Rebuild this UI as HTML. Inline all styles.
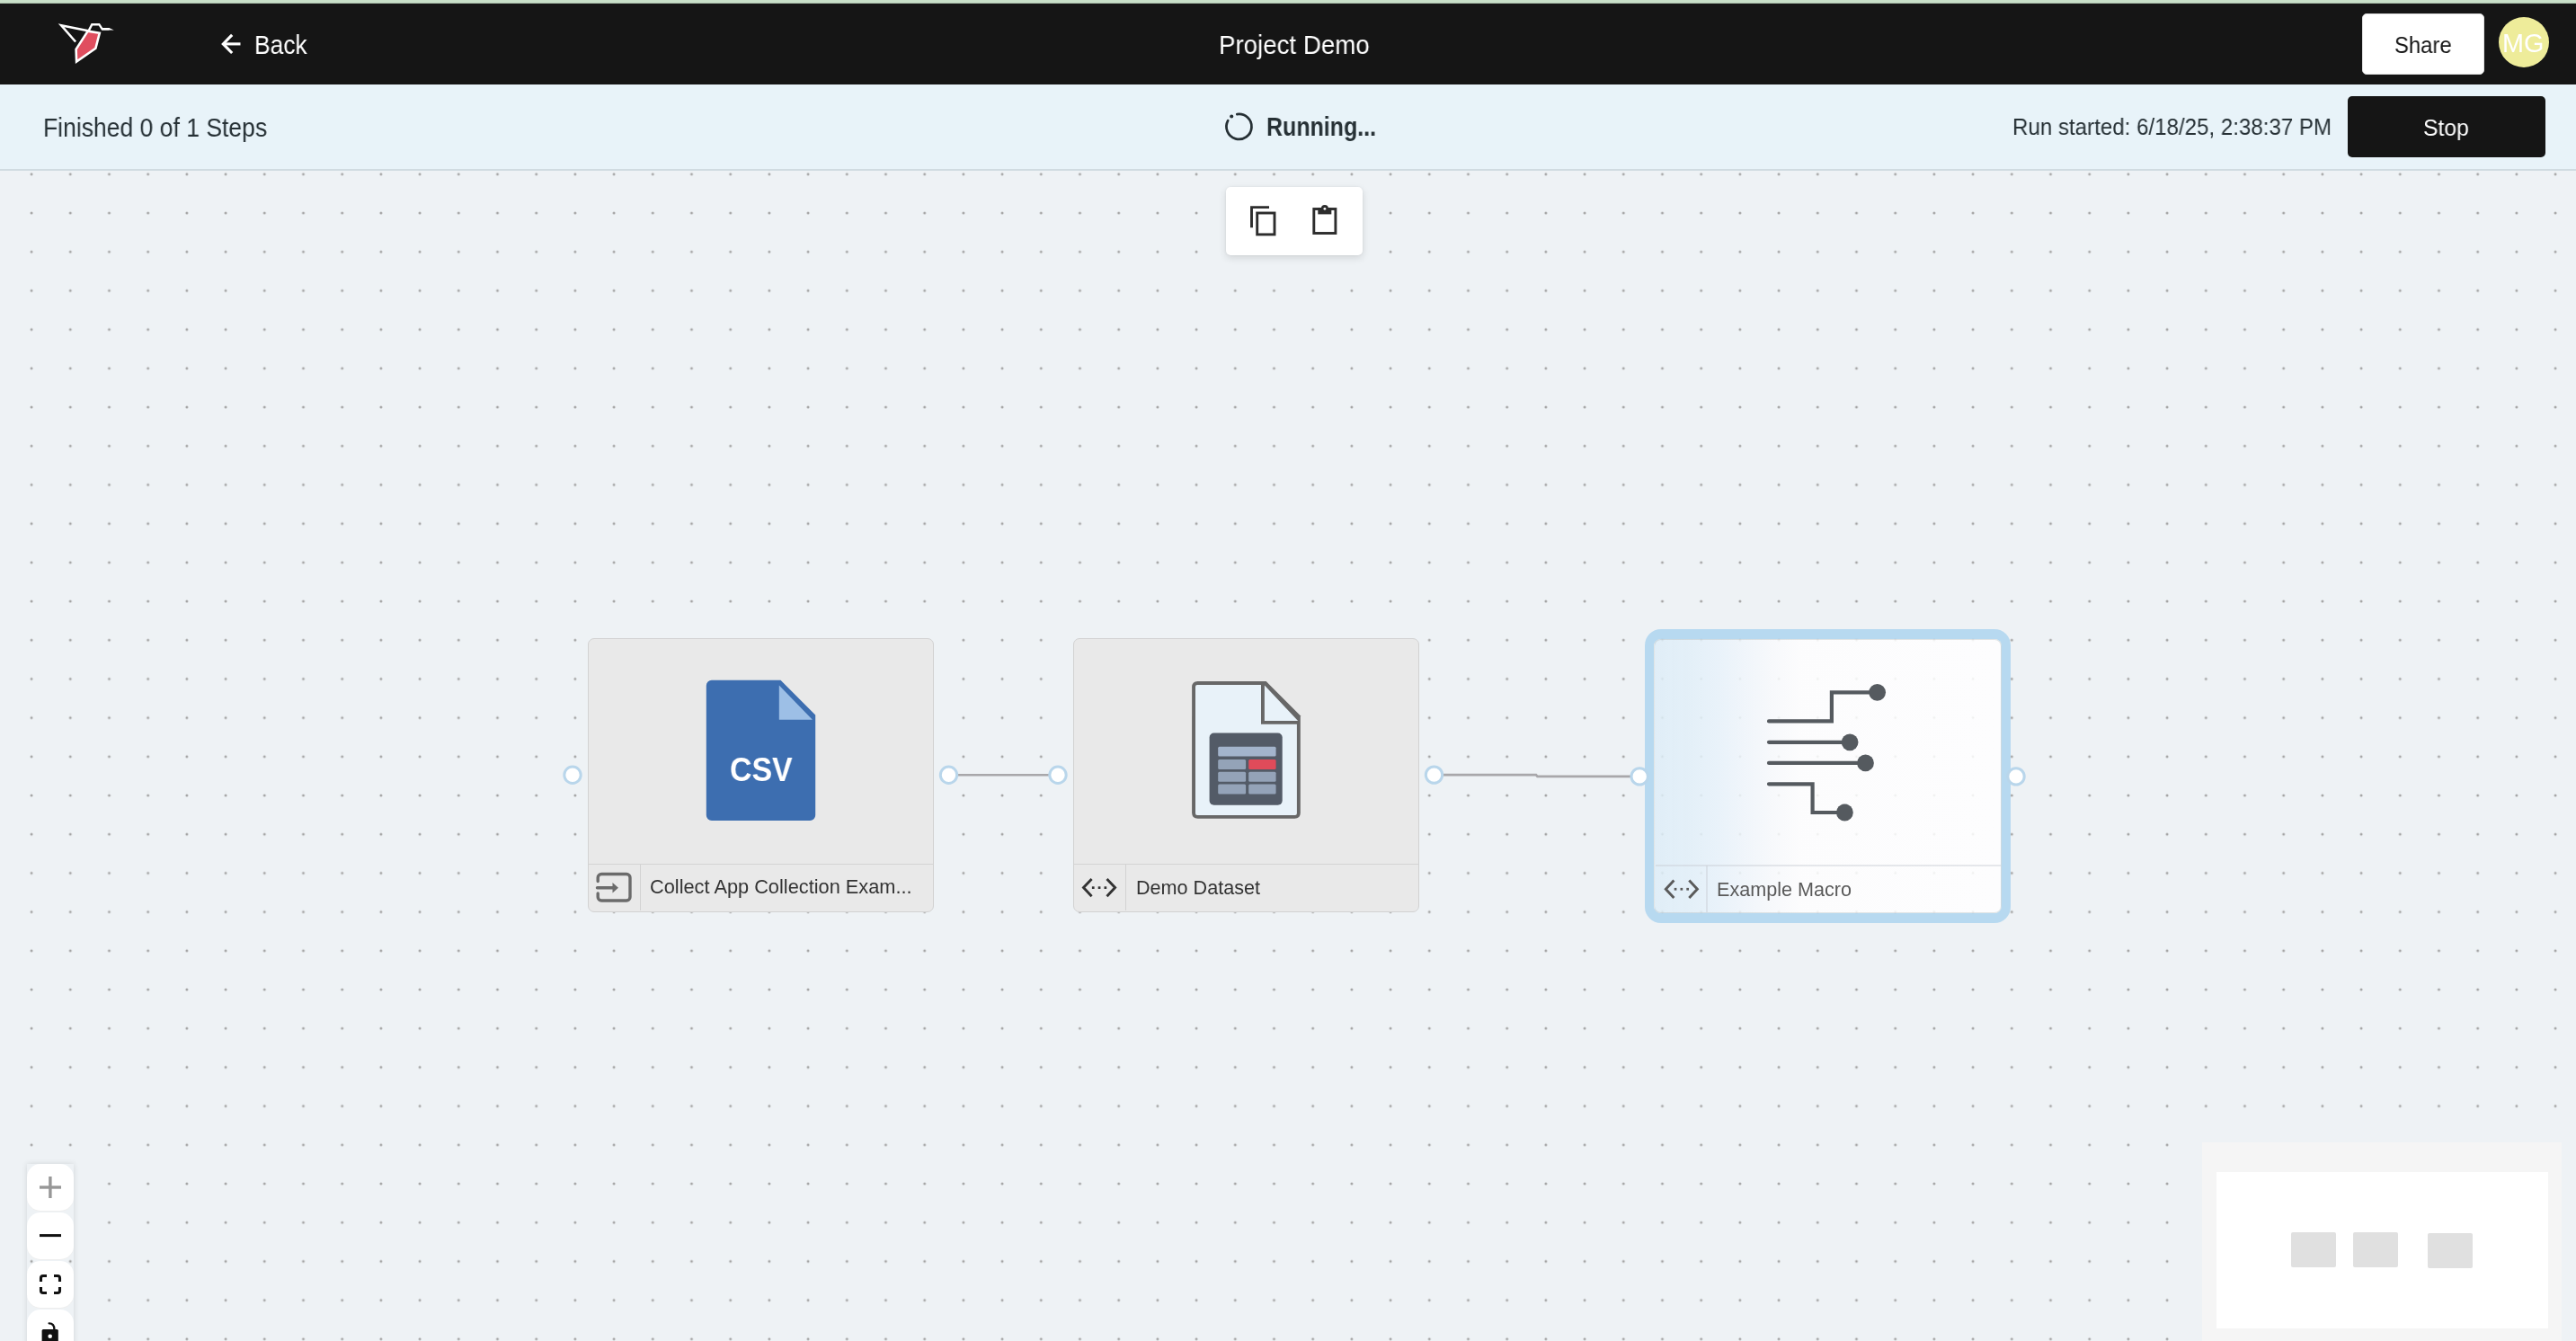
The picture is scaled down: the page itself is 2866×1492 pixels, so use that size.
<!DOCTYPE html>
<html><head><meta charset="utf-8"><style>
*{box-sizing:border-box;margin:0;padding:0}
html,body{width:2866px;height:1492px;overflow:hidden;background:#eef2f5;font-family:"Liberation Sans",sans-serif}
.abs{position:absolute}
.txt{position:absolute;white-space:nowrap;line-height:1;will-change:transform}
svg{position:absolute;overflow:visible}
</style></head>
<body>
<div class="abs" style="left:0;top:0;width:2866px;height:4px;background:#c9e0c9"></div>
<div class="abs" style="left:0;top:3px;width:2866px;height:1px;background:#a5b8a5"></div>
<div class="abs" style="left:0;top:4px;width:2866px;height:90px;background:#151515"></div>
<div class="abs" style="left:0;top:94px;width:2866px;height:94px;background:#e8f3f9"></div>
<div class="abs" style="left:0;top:188px;width:2866px;height:2px;background:#d0dbe1"></div>
<svg style="left:0;top:0" width="2866" height="1492" viewBox="0 0 2866 1492">
  <defs><pattern id="dots" patternUnits="userSpaceOnUse" x="13.5" y="172.2" width="43.2" height="43.2">
  <circle cx="21.6" cy="21.6" r="1.5" fill="#a4a4a4"/></pattern></defs>
  <rect x="0" y="190" width="2866" height="1302" fill="url(#dots)"/>
</svg>
<svg style="left:0;top:0" width="140" height="94" viewBox="0 0 140 94">
  <polygon points="97.7,34.6 110.8,36.8 106.4,53.8 85.1,68.6 84.6,54.8" fill="#e04e5f" stroke="#fff" stroke-width="2.6" stroke-linejoin="miter"/>
  <polyline points="84.1,46.5 68.2,28.3 98,34.2" fill="none" stroke="#fff" stroke-width="2.6" stroke-linejoin="miter"/>
  <polyline points="98.6,34.4 102.3,27.2 110.3,27.2 113.7,32.3 121.4,32.3" fill="none" stroke="#fff" stroke-width="2.4"/>
  <polygon points="113.2,31.1 121.4,31.1 126.8,33.5 113.2,33.5" fill="#fff"/>
</svg>
<svg style="left:0;top:0" width="300" height="94" viewBox="0 0 300 94">
  <polyline points="258.2,38.8 248.3,48.9 258.2,59" fill="none" stroke="#fff" stroke-width="3.1"/>
  <line x1="248.5" y1="48.9" x2="267.5" y2="48.9" stroke="#fff" stroke-width="3.1"/>
</svg>
<div id="t-back" class="txt" style="left:282.80px;top:35.82px;font-size:28.8px;color:#fff;transform:scaleX(0.917);transform-origin:0 0;">Back</div>

<div id="t-title" class="txt" style="left:1355.70px;top:35.62px;font-size:28.8px;color:#fff;transform:scaleX(0.961);transform-origin:0 0;">Project Demo</div>

<div class="abs" style="left:2628px;top:15px;width:136px;height:68px;background:#fff;border:1.5px solid #e2e2e2;border-radius:5px"></div>
<div id="t-share" class="txt" style="left:2663.70px;top:37.67px;font-size:25.2px;color:#151515;transform:scaleX(0.947);transform-origin:0 0;">Share</div>

<div class="abs" style="left:2780px;top:18.8px;width:56px;height:56px;border-radius:50%;background:#eeec9a"></div>
<div id="t-mg" class="txt" style="left:2784.40px;top:34.22px;font-size:28.8px;color:#fff;">MG</div>

<div id="t-fin" class="txt" style="left:48.00px;top:127.52px;font-size:28.8px;color:#263035;transform:scaleX(0.921);transform-origin:0 0;">Finished 0 of 1 Steps</div>

<svg style="left:0;top:0" width="1400" height="190" viewBox="0 0 1400 190">
  <path d="M1376.3,127.1 A14,14 0 1 1 1366.2,134.2" fill="none" stroke="#263035" stroke-width="2.75" stroke-linecap="round"/>
  <circle cx="1370.2" cy="129.5" r="2.05" fill="#263035"/>
</svg>
<div id="t-run" class="txt" style="left:1408.50px;top:127.32px;font-size:28.8px;color:#263035;font-weight:bold;transform:scaleX(0.867);transform-origin:0 0;">Running...</div>

<div id="t-runst" class="txt" style="left:2239.30px;top:128.87px;font-size:25.2px;color:#263035;transform:scaleX(0.957);transform-origin:0 0;">Run started: 6/18/25, 2:38:37 PM</div>

<div class="abs" style="left:2612px;top:107px;width:220px;height:68px;background:#151515;border-radius:5px"></div>
<div id="t-stop" class="txt" style="left:2696.00px;top:129.67px;font-size:25.2px;color:#fff;transform:scaleX(0.982);transform-origin:0 0;">Stop</div>

<div class="abs" style="left:1364px;top:208px;width:152px;height:76px;background:#fff;border-radius:5px;box-shadow:0 3px 8px rgba(0,0,0,0.12),0 0 2px rgba(0,0,0,0.08)"></div>
<svg style="left:0;top:0" width="1600" height="300" viewBox="0 0 1600 300">
  <polyline points="1392.5,253.3 1392.5,230.6 1412,230.6" fill="none" stroke="#2d2d2d" stroke-width="2.9"/>
  <rect x="1398.7" y="237" width="19.3" height="23.9" fill="none" stroke="#2d2d2d" stroke-width="2.9"/>
  <rect x="1461.8" y="232.5" width="24.1" height="27" fill="none" stroke="#2d2d2d" stroke-width="2.9"/>
  <rect x="1466.3" y="231" width="15" height="7.4" fill="#2d2d2d"/>
  <circle cx="1473.9" cy="232" r="4" fill="#2d2d2d"/>
  <circle cx="1473.9" cy="232.3" r="1.4" fill="#fff"/>
</svg>
<div class="abs" style="left:654px;top:710px;width:385px;height:304.5px;background:#e9e9e9;border:1.5px solid #d2d2d2;border-radius:7px"></div>
<div class="abs" style="left:655px;top:960.6px;width:383px;height:1.3px;background:#d3d3d3"></div>
<div class="abs" style="left:711.6px;top:961px;width:1.3px;height:52px;background:#d3d3d3"></div>
<div class="abs" style="left:1194px;top:710px;width:385px;height:304.5px;background:#e9e9e9;border:1.5px solid #d2d2d2;border-radius:7px"></div>
<div class="abs" style="left:1195px;top:960.6px;width:383px;height:1.3px;background:#d3d3d3"></div>
<div class="abs" style="left:1251.6px;top:961px;width:1.3px;height:52px;background:#d3d3d3"></div>
<div id="t-lab1" class="txt" style="left:722.70px;top:976.42px;font-size:21.6px;color:#333333;transform:scaleX(1.008);transform-origin:0 0;">Collect App Collection Exam...</div>

<div id="t-lab2" class="txt" style="left:1263.80px;top:976.52px;font-size:21.6px;color:#333333;">Demo Dataset</div>

<div class="abs" style="left:1829.8px;top:700.3px;width:407.4px;height:326.5px;border-radius:18px;background:#b7d9f0"></div>
<div class="abs" style="left:1840.3px;top:710.8px;width:386.4px;height:305.5px;border-radius:8px;background:#eef2f5"></div>
<svg style="left:0;top:0" width="2866" height="1492" viewBox="0 0 2866 1492">
  <pattern id="dots2" patternUnits="userSpaceOnUse" x="13.5" y="172.2" width="43.2" height="43.2">
  <circle cx="21.6" cy="21.6" r="1.4" fill="#a0a0a0"/></pattern>
  <rect x="1840.3" y="710.8" width="386.4" height="305.5" rx="8" fill="url(#dots2)"/>
</svg>
<div class="abs" style="left:1840.3px;top:710.8px;width:386.4px;height:305.5px;border-radius:8px;border:1.2px solid rgba(150,160,165,0.28);background:linear-gradient(90deg,rgba(221,237,247,0.84) 0%,rgba(225,239,248,0.85) 10%,rgba(231,242,250,0.85) 18%,rgba(240,246,251,0.85) 26%,rgba(248,250,252,0.85) 34%,rgba(254,254,254,0.85) 42%,rgba(255,255,255,0.85) 100%)"></div>
<div class="abs" style="left:1841.5px;top:962.3px;width:384px;height:1.3px;background:rgba(200,205,210,0.45)"></div>
<div class="abs" style="left:1898.4px;top:963px;width:1.3px;height:52px;background:rgba(200,205,210,0.45)"></div>
<div id="t-lab3" class="txt" style="left:1910.00px;top:978.52px;font-size:21.6px;color:#5a5a5a;">Example Macro</div>

<svg style="left:0;top:0" width="2866" height="1492" viewBox="0 0 2866 1492">
  <line x1="1055.5" y1="862.3" x2="1177" y2="862.3" stroke="#a8a7aa" stroke-width="2.6"/>
  <polyline points="1595.5,862.1 1709,862.1 1710.5,863.9 1824,863.9" fill="none" stroke="#a8a7aa" stroke-width="2.6"/>
  <g fill="#fff" stroke="#b9d6eb" stroke-width="3">
    <circle cx="637" cy="862.3" r="9.2"/>
    <circle cx="1055.5" cy="862.3" r="9.2"/>
    <circle cx="1177" cy="862.3" r="9.2"/>
    <circle cx="1595.5" cy="862.1" r="9.2"/>
    <circle cx="1824.2" cy="863.9" r="9.2"/>
    <circle cx="2243" cy="863.9" r="9.2"/>
  </g>
</svg>
<svg style="left:0;top:0" width="2866" height="1492" viewBox="0 0 2866 1492">
  <!-- CSV doc -->
  <path d="M791.8,756.8 H868.5 L907.2,795.5 V907 a6,6 0 0 1 -6,6 H791.8 a6,6 0 0 1 -6,-6 V762.8 a6,6 0 0 1 6,-6 Z" fill="#3d6eb0"/>
  <polygon points="866.8,762.5 866.8,800.8 903.9,800.8" fill="#9dbfe6"/>
  <!-- dataset doc -->
  <path d="M1332.6,758.1 H1408.6 L1446.8,796.3 V904.2 Q1446.8,910.7 1440.3,910.7 H1332.6 Q1326.1,910.7 1326.1,904.2 V764.6 Q1326.1,758.1 1332.6,758.1 Z" fill="#676767"/>
  <path d="M1332,761.9 H1403 V805.8 H1442.9 V904.9 Q1442.9,906.9 1440.9,906.9 H1332 Q1330,906.9 1330,904.9 V763.9 Q1330,761.9 1332,761.9 Z" fill="#e8f2f9"/>
  <path d="M1406.9,762.5 V801.9 H1444.1 Z" fill="#e8f2f9"/>
  <rect x="1345.6" y="815.5" width="81.1" height="80.3" rx="5" fill="#535b67"/>
  <rect x="1355.2" y="830.7" width="64.4" height="10.9" rx="1.5" fill="#a3b4cc"/>
  <rect x="1355.2" y="845.1" width="30.9" height="10.9" rx="1.5" fill="#94a3b8"/>
  <rect x="1389.2" y="845.1" width="30.4" height="10.9" rx="1.5" fill="#e04b5a"/>
  <rect x="1355.2" y="858.8" width="30.9" height="10.9" rx="1.5" fill="#94a3b8"/>
  <rect x="1389.2" y="858.8" width="30.4" height="10.9" rx="1.5" fill="#94a3b8"/>
  <rect x="1355.2" y="872.5" width="30.9" height="10.9" rx="1.5" fill="#94a3b8"/>
  <rect x="1389.2" y="872.5" width="30.4" height="10.9" rx="1.5" fill="#94a3b8"/>
  <!-- macro icon -->
  <g fill="none" stroke="#555a5f" stroke-width="4.2" stroke-linecap="round" stroke-linejoin="miter">
    <polyline points="1968,802.4 2037.9,802.4 2037.9,770.3 2085,770.3"/>
    <line x1="1968" y1="825.8" x2="2055" y2="825.8"/>
    <line x1="1968" y1="848.9" x2="2072" y2="848.9"/>
    <polyline points="1968,872.3 2016.6,872.3 2016.6,904 2050,904"/>
  </g>
  <g fill="#555a5f">
    <circle cx="2088.6" cy="770.3" r="9.4"/>
    <circle cx="2058.1" cy="825.8" r="9.4"/>
    <circle cx="2075.5" cy="848.9" r="9.4"/>
    <circle cx="2052.4" cy="904" r="9.4"/>
  </g>
  <!-- import icon -->
  <path d="M665.2,980.5 V976.5 a4,4 0 0 1 4,-4 H697 a4,4 0 0 1 4,4 V998 a4,4 0 0 1 -4,4 H669.2 a4,4 0 0 1 -4,-4 V994" fill="none" stroke="#6b6b6b" stroke-width="3.4" stroke-linecap="round"/>
  <line x1="664.5" y1="987.7" x2="683" y2="987.7" stroke="#6b6b6b" stroke-width="3.4" stroke-linecap="round"/>
  <polygon points="681.5,982 688,987.7 681.5,993.6" fill="#6b6b6b"/>
  <!-- code icons -->
  <g id="codeic" fill="none" stroke="#333" stroke-width="2.9" stroke-linecap="butt">
    <polyline points="1214.6,977.9 1205.5,987.6 1214.6,997.3"/>
    <polyline points="1231.5,977.9 1240.6,987.6 1231.5,997.3"/>
  </g>
  <g fill="#333"><rect x="1214.9" y="986.3" width="2.7" height="2.7"/><rect x="1221.7" y="986.3" width="2.7" height="2.7"/><rect x="1228.5" y="986.3" width="2.7" height="2.7"/></g>
  <g transform="translate(647.8,1.6)" fill="none" stroke="#5a5a5a" stroke-width="2.9">
    <polyline points="1214.6,977.9 1205.5,987.6 1214.6,997.3"/>
    <polyline points="1231.5,977.9 1240.6,987.6 1231.5,997.3"/>
  </g>
  <g transform="translate(647.8,1.6)" fill="#5a5a5a"><rect x="1214.9" y="986.3" width="2.7" height="2.7"/><rect x="1221.7" y="986.3" width="2.7" height="2.7"/><rect x="1228.5" y="986.3" width="2.7" height="2.7"/></g>
</svg>
<div id="t-csv" class="txt" style="left:812.00px;top:837.87px;font-size:37.6px;color:#fff;font-weight:bold;transform:scaleX(0.9);transform-origin:0 0;">CSV</div>

<div class="abs" style="left:29.8px;top:1294.8px;width:52.3px;height:220px;background:transparent;box-shadow:0 0 6px rgba(0,0,0,0.12)"></div>
<div class="abs" style="left:30px;top:1295px;width:52px;height:51.8px;background:#fff;border-radius:15px;box-shadow:0 1px 0 #eee"></div>
<div class="abs" style="left:30px;top:1349px;width:52px;height:51.8px;background:#fff;border-radius:15px;box-shadow:0 1px 0 #eee"></div>
<div class="abs" style="left:30px;top:1403.2px;width:52px;height:51.8px;background:#fff;border-radius:15px;box-shadow:0 1px 0 #eee"></div>
<div class="abs" style="left:30px;top:1457px;width:52px;height:51.8px;background:#fff;border-radius:15px;box-shadow:0 1px 0 #eee"></div>
<svg style="left:0;top:0" width="200" height="1492" viewBox="0 0 200 1492">
  <line x1="44" y1="1321" x2="68" y2="1321" stroke="#979797" stroke-width="3.4"/>
  <line x1="55.9" y1="1309" x2="55.9" y2="1333" stroke="#979797" stroke-width="3.4"/>
  <line x1="44" y1="1374.6" x2="68" y2="1374.6" stroke="#111" stroke-width="3"/>
  <path d="M45.5,1426 V1422 Q45.5,1419.5 48,1419.5 H52 M60,1419.5 H64 Q66.5,1419.5 66.5,1422 V1426 M66.5,1432 V1436 Q66.5,1438.5 64,1438.5 H60 M52,1438.5 H48 Q45.5,1438.5 45.5,1436 V1432" fill="none" stroke="#111" stroke-width="3.1"/>
  <rect x="46.6" y="1478.9" width="18.2" height="20" rx="1.5" fill="#111"/>
  <path d="M54.6,1472.3 Q60.4,1472.3 60.4,1479" fill="none" stroke="#111" stroke-width="2.3" stroke-linecap="round"/>
  <circle cx="55.7" cy="1486.8" r="2.3" fill="#fff"/>
</svg>
<div class="abs" style="left:2449.8px;top:1270.8px;width:400.3px;height:222px;background:#f5f5f5"></div>
<div class="abs" style="left:2465.5px;top:1303.8px;width:369.3px;height:174px;background:#fff"></div>
<div class="abs" style="left:2549px;top:1371px;width:50px;height:39px;background:#e0e0e0;border-radius:2px"></div>
<div class="abs" style="left:2618px;top:1371px;width:50px;height:39px;background:#e0e0e0;border-radius:2px"></div>
<div class="abs" style="left:2701px;top:1372px;width:50px;height:39px;background:#e0e0e0;border-radius:2px"></div>
</body></html>
